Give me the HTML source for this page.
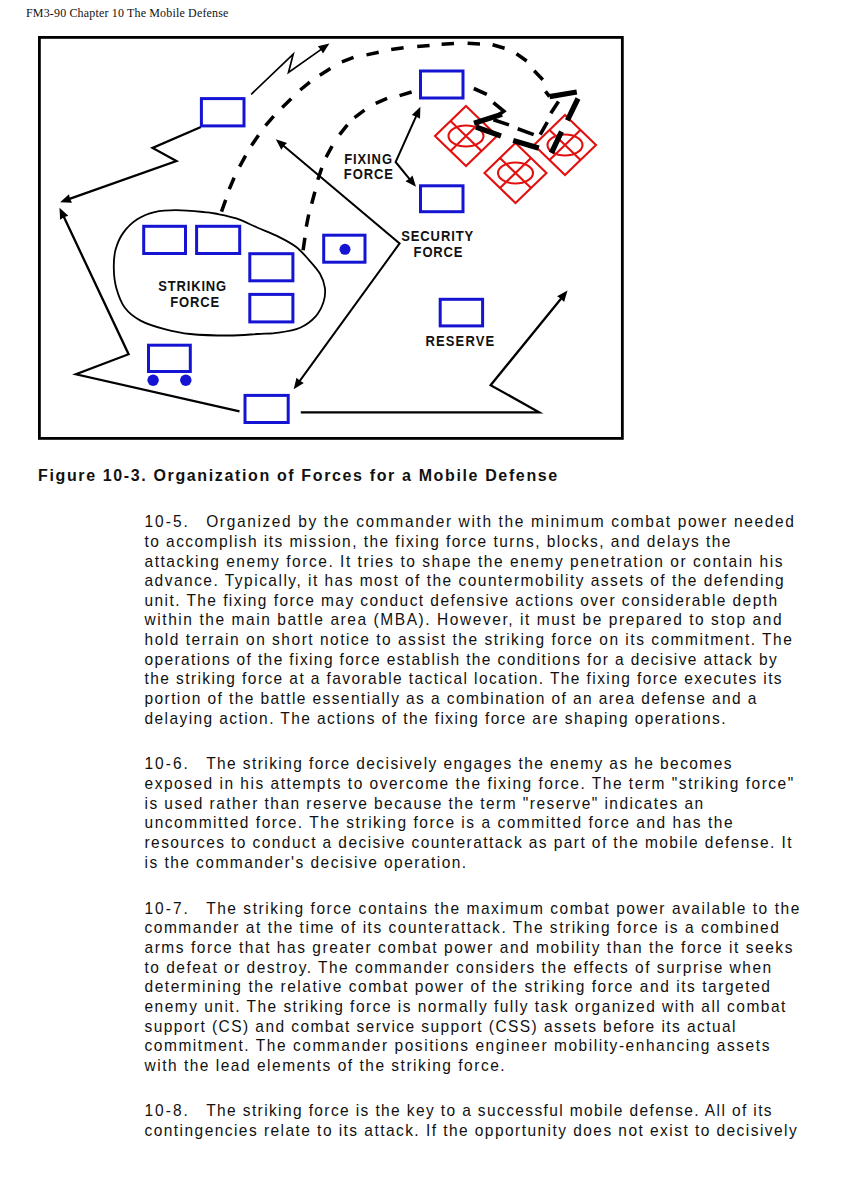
<!DOCTYPE html>
<html><head><meta charset="utf-8"><style>
html,body{margin:0;padding:0;background:#fff;}
body{width:846px;height:1197px;position:relative;overflow:hidden;}
.t{position:absolute;left:144.5px;transform:scaleY(1.08);transform-origin:0 13.13px;font-family:"Liberation Sans",sans-serif;font-size:15.5px;line-height:15.5px;letter-spacing:1.45px;word-spacing:0px;color:#111;white-space:pre;}
.g{display:inline-block;width:30px;}
.hd{position:absolute;transform:scaleY(1.08);transform-origin:0 10.044px;left:26px;top:6.756px;font-family:"Liberation Serif",serif;font-size:12.0px;line-height:12.0px;letter-spacing:0.16px;color:#111;white-space:pre;}
.cap{position:absolute;transform:scaleY(1.0);transform-origin:0 13.552px;left:38px;top:467.948px;font-family:"Liberation Sans",sans-serif;font-weight:bold;font-size:16px;line-height:16px;letter-spacing:1.632727272727274px;word-spacing:0px;color:#111;white-space:pre;}
svg{position:absolute;left:0;top:0;}
</style></head><body>
<div class="hd">FM3-90 Chapter 10 The Mobile Defense</div>
<svg width="846" height="460" viewBox="0 0 846 460">
<defs><g id="en" fill="none" stroke="#e31010" stroke-width="2.1"><path d="M0,-30 L31,0 L0,30 L-31,0 Z"/><path d="M-15.5,-15 L15.5,15 M15.5,-15 L-15.5,15"/><ellipse cx="0" cy="0" rx="17.5" ry="10.5"/></g></defs>
<rect x="39.4" y="37.4" width="582.95" height="401" fill="none" stroke="#000" stroke-width="2.8"/>
<g fill="none" stroke="#000" stroke-width="2.3" stroke-linejoin="miter">
<path d="M251.2,94.3 L293.2,54.1 L288.5,72.5 L321.2,49.4" stroke-width="1.7"/>
<path d="M200.9,127.0 L152.6,147.9 L176.4,161.0 L69.5,198.9"/>
<path d="M239.5,411.4 L76.0,374.3 L128.6,354.2 L63.8,216.8"/>
<path d="M299.6,381.2 L399.6,243.4 L283.5,145.7" stroke-width="2"/>
<path d="M300.8,412.3 L539.1,412.3 L490.6,385.2 L561.2,298.4"/>
<path d="M416.3,115.9 L395.6,162.0 L409.6,179.1" stroke-width="2"/>
<path stroke-width="1.8" d="M137.6,219.1 C142.8,215.7 148.2,213.6 154.6,212.1 C161.0,210.6 167.6,210.2 175.9,210.2 C184.2,210.2 197.8,211.5 204.3,212.1 C210.8,212.7 209.7,212.4 215.0,213.5 C220.3,214.6 229.2,216.0 236.3,218.4 C243.4,220.8 250.5,224.6 257.6,227.7 C264.7,230.8 272.4,233.7 278.8,236.9 C285.2,240.1 290.9,243.0 295.9,246.8 C300.9,250.6 304.6,255.1 308.6,259.6 C312.6,264.1 317.3,269.1 320.0,273.8 C322.7,278.5 324.3,283.2 324.9,287.9 C325.5,292.6 325.0,297.4 323.5,302.1 C322.0,306.8 319.6,312.0 315.7,316.3 C311.8,320.6 306.2,325.0 300.1,327.7 C294.0,330.4 285.9,331.6 278.8,332.6 C271.7,333.7 265.9,333.5 257.6,334.0 C249.3,334.5 240.4,335.5 229.2,335.5 C217.9,335.5 200.9,335.1 190.1,334.0 C179.3,332.9 172.9,331.3 164.6,329.1 C156.3,326.9 147.1,324.2 140.5,320.6 C133.9,317.1 128.9,313.2 124.9,307.8 C120.9,302.4 118.2,294.5 116.3,287.9 C114.4,281.3 113.9,274.5 113.8,268.1 C113.7,261.7 114.0,255.5 115.6,249.6 C117.2,243.7 119.7,237.7 123.4,232.6 C127.1,227.5 132.4,222.5 137.6,219.1 Z"/>
</g>
<path d="M329.4,43.6 L323.0,53.6 L320.8,49.7 L317.8,46.3 Z" fill="#000"/>
<path d="M60.1,202.2 L69.0,194.3 L70.0,198.7 L72.0,202.8 Z" fill="#000"/>
<path d="M59.5,207.8 L68.3,215.8 L64.0,217.3 L60.1,219.7 Z" fill="#000"/>
<path d="M275.8,139.3 L287.1,142.9 L283.8,146.1 L281.3,149.8 Z" fill="#000"/>
<path d="M293.7,389.3 L296.5,377.8 L299.9,380.8 L303.8,383.0 Z" fill="#000"/>
<path d="M567.5,290.6 L564.1,302.0 L560.9,298.7 L557.1,296.3 Z" fill="#000"/>
<path d="M416.0,186.8 L405.5,181.2 L409.3,178.7 L412.5,175.4 Z" fill="#000"/>
<path d="M420.4,106.8 L420.0,118.7 L416.1,116.4 L411.8,115.0 Z" fill="#000"/>
<g fill="none" stroke="#000" stroke-width="3.5">
<path d="M221.5,211.7 L225.7,199.9 M229.3,189.1 L234.1,177.7 M239.6,166.7 L245.6,155.7 M251.5,145.6 L258.5,135.2 M265.5,125.7 L273.7,116.1 M282.2,107.6 L291.2,98.8 M300.2,90.0 L309.8,82.2 M319.8,75.2 L330.4,68.6 M341.9,61.8 L353.5,57.4 M366.5,54.9 L378.7,52.3 M391.2,49.6 L403.6,47.8 M417.2,46.6 L429.6,45.4 M441.6,44.2 L454.0,43.6 M467.6,43.3 L480.0,43.9 M492.6,44.8 L504.6,48.2 M516.5,53.8 L526.7,61.0 M534.2,70.7 L542.8,79.7"/>
<path d="M303.1,250.2 L304.9,237.8 M306.3,226.7 L308.7,214.5 M311.7,203.8 L314.9,191.8 M317.8,179.7 L321.8,167.9 M326.1,157.1 L332.1,146.1 M339.6,134.7 L347.4,124.9 M354.5,117.7 L364.5,110.1 M375.7,103.4 L387.1,98.4 M399.6,95.6 L411.6,92.0"/>
</g>
<use href="#en" x="466" y="136"/>
<use href="#en" x="515.5" y="173"/>
<use href="#en" x="565" y="145"/>
<g fill="none" stroke="#000"><path stroke-width="5.3" d="M474,123.3 L502,114.3 M476,127 L501,136 M513.2,140.5 L538.8,148.1 M549.6,96.7 L576.8,92 M578,98.5 L567.4,120.4 M561.5,131.6 L551.4,153"/>
<path stroke-width="3.6" d="M473.8,88.5 L486.8,94.4 M493.4,102.7 L503.8,111.2 L497,116 M493.4,119.7 L509,124.9 M517.7,128.7 L533.7,134.6 M545.5,91.4 L549.6,96.7 M558.5,101.5 L550.8,113.3 M547.3,122.2 L540.2,134.6"/></g>
<g fill="#fff" stroke="#1414d2" stroke-width="3">
<rect x="201.4" y="98.6" width="42.6" height="27.3"/>
<rect x="420.5" y="71.0" width="42.5" height="27.0"/>
<rect x="420.5" y="185.8" width="42.5" height="25.9"/>
<rect x="143.7" y="226.3" width="41.8" height="27.2"/>
<rect x="196.6" y="226.3" width="43.1" height="27.2"/>
<rect x="249.8" y="253.7" width="43.1" height="27.1"/>
<rect x="249.8" y="294.4" width="43.1" height="27.5"/>
<rect x="148.5" y="345.2" width="41.8" height="26.3"/>
<rect x="245.0" y="395.4" width="43.2" height="27.1"/>
<rect x="323.7" y="235.2" width="41.3" height="27.0"/>
<rect x="440.2" y="299.3" width="42.4" height="26.6"/>
</g>
<g fill="#1414d2"><circle cx="345" cy="249.3" r="5.5"/><circle cx="153.1" cy="380.2" r="5.7"/><circle cx="185.8" cy="380.2" r="5.7"/></g>
<g font-family="Liberation Sans, sans-serif" font-weight="bold" font-size="13" fill="#111">
<text x="344.2" y="163.7" textLength="47.8" lengthAdjust="spacing" transform="translate(344.2,163.7) scale(1,1.08) translate(-344.2,-163.7)">FIXING</text>
<text x="343.8" y="179.3" textLength="49.2" lengthAdjust="spacing" transform="translate(343.8,179.3) scale(1,1.08) translate(-343.8,-179.3)">FORCE</text>
<text x="401.2" y="241" textLength="72.0" lengthAdjust="spacing" transform="translate(401.2,241) scale(1,1.08) translate(-401.2,-241)">SECURITY</text>
<text x="413.6" y="256.6" textLength="48.9" lengthAdjust="spacing" transform="translate(413.6,256.6) scale(1,1.08) translate(-413.6,-256.6)">FORCE</text>
<text x="158.2" y="291.5" textLength="68.0" lengthAdjust="spacing" transform="translate(158.2,291.5) scale(1,1.08) translate(-158.2,-291.5)">STRIKING</text>
<text x="170.2" y="307.5" textLength="48.9" lengthAdjust="spacing" transform="translate(170.2,307.5) scale(1,1.08) translate(-170.2,-307.5)">FORCE</text>
<text x="425.4" y="345.6" textLength="68.8" lengthAdjust="spacing" transform="translate(425.4,345.6) scale(1,1.08) translate(-425.4,-345.6)">RESERVE</text>
</g>
</svg>
<div class="cap">Figure 10-3. Organization of Forces for a Mobile Defense</div>
<div class="t" style="top:514.27px;letter-spacing:2.0px">10-5.</div>
<div class="t" style="top:514.27px;left:206.2px;letter-spacing:1.627px">Organized by the commander with the minimum combat power needed</div>
<div class="t" style="top:533.91px;letter-spacing:1.450px">to accomplish its mission, the fixing force turns, blocks, and delays the</div>
<div class="t" style="top:553.55px;letter-spacing:1.536px">attacking enemy force. It tries to shape the enemy penetration or contain his</div>
<div class="t" style="top:573.19px;letter-spacing:1.482px">advance. Typically, it has most of the countermobility assets of the defending</div>
<div class="t" style="top:592.83px;letter-spacing:1.430px">unit. The fixing force may conduct defensive actions over considerable depth</div>
<div class="t" style="top:612.47px;letter-spacing:1.565px">within the main battle area (MBA). However, it must be prepared to stop and</div>
<div class="t" style="top:632.11px;letter-spacing:1.513px">hold terrain on short notice to assist the striking force on its commitment. The</div>
<div class="t" style="top:651.75px;letter-spacing:1.393px">operations of the fixing force establish the conditions for a decisive attack by</div>
<div class="t" style="top:671.39px;letter-spacing:1.413px">the striking force at a favorable tactical location. The fixing force executes its</div>
<div class="t" style="top:691.03px;letter-spacing:1.409px">portion of the battle essentially as a combination of an area defense and a</div>
<div class="t" style="top:710.67px;letter-spacing:1.415px">delaying action. The actions of the fixing force are shaping operations.</div>
<div class="t" style="top:756.47px;letter-spacing:2.0px">10-6.</div>
<div class="t" style="top:756.47px;left:206.2px;letter-spacing:1.417px">The striking force decisively engages the enemy as he becomes</div>
<div class="t" style="top:776.11px;letter-spacing:1.508px">exposed in his attempts to overcome the fixing force. The term &quot;striking force&quot;</div>
<div class="t" style="top:795.75px;letter-spacing:1.458px">is used rather than reserve because the term &quot;reserve&quot; indicates an</div>
<div class="t" style="top:815.39px;letter-spacing:1.522px">uncommitted force. The striking force is a committed force and has the</div>
<div class="t" style="top:835.03px;letter-spacing:1.424px">resources to conduct a decisive counterattack as part of the mobile defense. It</div>
<div class="t" style="top:854.67px;letter-spacing:1.464px">is the commander&#x27;s decisive operation.</div>
<div class="t" style="top:900.77px;letter-spacing:2.0px">10-7.</div>
<div class="t" style="top:900.77px;left:206.2px;letter-spacing:1.538px">The striking force contains the maximum combat power available to the</div>
<div class="t" style="top:920.41px;letter-spacing:1.523px">commander at the time of its counterattack. The striking force is a combined</div>
<div class="t" style="top:940.05px;letter-spacing:1.542px">arms force that has greater combat power and mobility than the force it seeks</div>
<div class="t" style="top:959.69px;letter-spacing:1.491px">to defeat or destroy. The commander considers the effects of surprise when</div>
<div class="t" style="top:979.33px;letter-spacing:1.550px">determining the relative combat power of the striking force and its targeted</div>
<div class="t" style="top:998.97px;letter-spacing:1.482px">enemy unit. The striking force is normally fully task organized with all combat</div>
<div class="t" style="top:1018.61px;letter-spacing:1.436px">support (CS) and combat service support (CSS) assets before its actual</div>
<div class="t" style="top:1038.25px;letter-spacing:1.544px">commitment. The commander positions engineer mobility-enhancing assets</div>
<div class="t" style="top:1057.89px;letter-spacing:1.507px">with the lead elements of the striking force.</div>
<div class="t" style="top:1103.37px;letter-spacing:2.0px">10-8.</div>
<div class="t" style="top:1103.37px;left:206.2px;letter-spacing:1.387px">The striking force is the key to a successful mobile defense. All of its</div>
<div class="t" style="top:1123.01px;letter-spacing:1.450px">contingencies relate to its attack. If the opportunity does not exist to decisively</div>
</body></html>
